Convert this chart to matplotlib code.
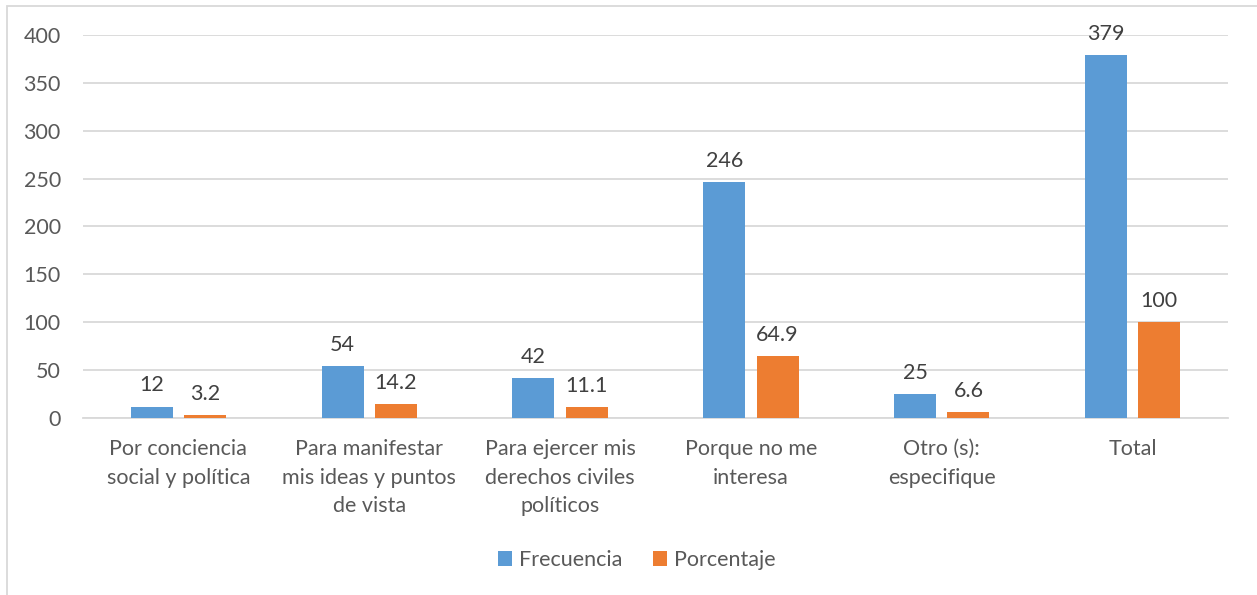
import matplotlib.pyplot as plt
import numpy as np
from matplotlib.patches import Rectangle

plt.rcParams['font.family'] = ['Lato', 'DejaVu Sans']

categories = ["Por conciencia\nsocial y política",
              "Para manifestar\nmis ideas y puntos\nde vista",
              "Para ejercer mis\nderechos civiles\npolíticos",
              "Porque no me\ninteresa",
              "Otro (s):\nespecifique",
              "Total"]
frecuencia = [12, 54, 42, 246, 25, 379]
porcentaje = [3.2, 14.2, 11.1, 64.9, 6.6, 100]
freq_labels = ["12", "54", "42", "246", "25", "379"]
pct_labels = ["3.2", "14.2", "11.1", "64.9", "6.6", "100"]
yticks = [0, 50, 100, 150, 200, 250, 300, 350, 400]

blue = '#5b9bd5'
orange = '#ed7d31'
text_c = '#595959'
grid_c = '#d9d9d9'
fs = 15.5

fig = plt.figure(figsize=(12.57, 5.95), dpi=100)
# outer chart border (light gray, cut off at right/bottom)
fig.patches.append(Rectangle((7/1257, -0.05), 1.2, 1 - 6/595 + 0.05,
                             transform=fig.transFigure, fill=False,
                             edgecolor=grid_c, linewidth=1.3))

ax = fig.add_axes([83/1257, 1 - 418/595, (1228-83)/1257, (418-35)/595])

x = np.arange(len(categories))
w = 0.22
off = 0.14
b1 = ax.bar(x - off, frecuencia, w, color=blue, label='Frecuencia', zorder=3)
b2 = ax.bar(x + off, porcentaje, w, color=orange, label='Porcentaje', zorder=3)

for bars, labs in [(b1, freq_labels), (b2, pct_labels)]:
    for rect, lab in zip(bars, labs):
        ax.annotate(lab, (rect.get_x() + rect.get_width()/2, rect.get_height()),
                    xytext=(0, 8), textcoords='offset points',
                    ha='center', va='bottom', fontsize=fs, color='#404040')

ax.set_ylim(0, 400)
ax.set_xlim(-0.5, len(categories) - 0.5)
ax.set_yticks(yticks)
ax.set_xticks(x)
ax.set_xticklabels(categories, linespacing=1.55)
ax.tick_params(axis='both', length=0, labelsize=fs, labelcolor=text_c)
ax.tick_params(axis='x', pad=15)
ax.tick_params(axis='y', pad=16)
ax.grid(axis='y', color=grid_c, linewidth=1.3, zorder=0)
for s in ['top', 'right', 'left']:
    ax.spines[s].set_visible(False)
ax.spines['bottom'].set_color(grid_c)
ax.spines['bottom'].set_linewidth(1.3)

fig.legend(loc='center', bbox_to_anchor=(637/1257, 1 - 560/595), ncol=2,
           frameon=False, fontsize=fs, labelcolor=text_c,
           handlelength=0.65, handleheight=0.65, handletextpad=0.35,
           columnspacing=1.4)

fig.savefig('out.png', dpi=100)
